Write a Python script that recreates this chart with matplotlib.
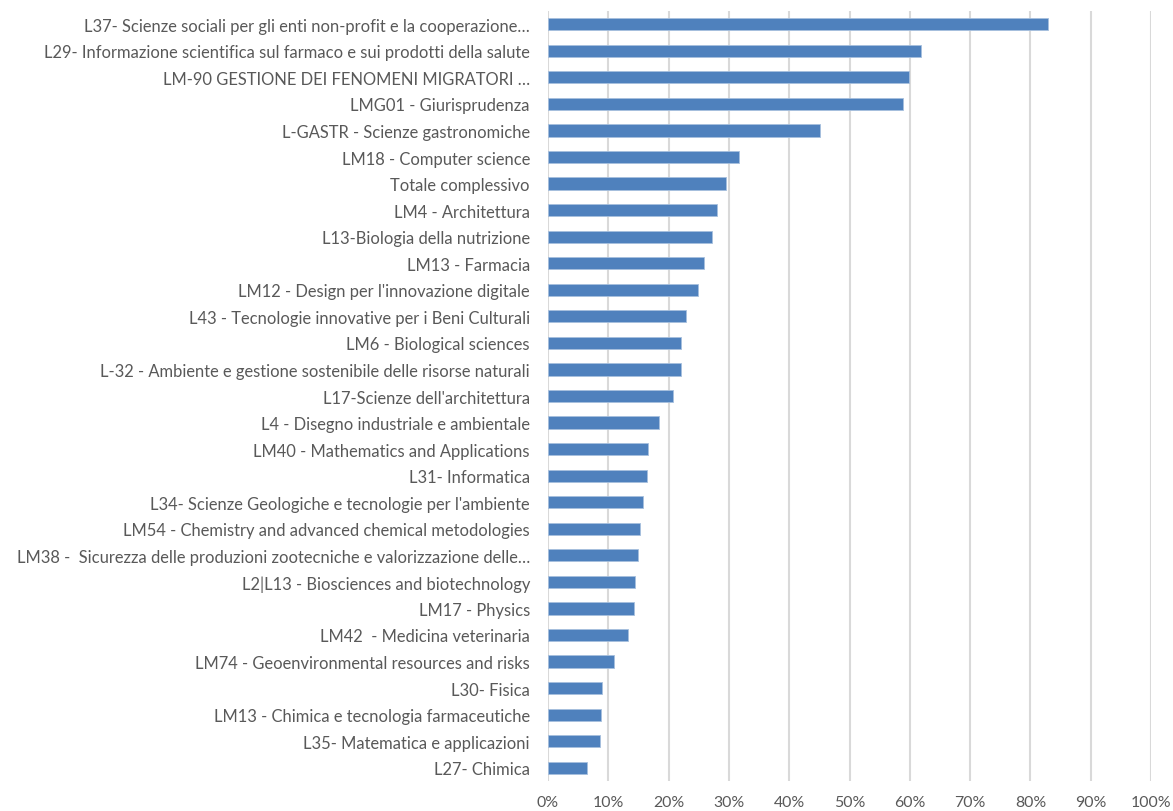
import matplotlib
matplotlib.use("Agg")
import matplotlib.pyplot as plt
import matplotlib.ticker as ticker

# course labels, top to bottom as shown
courses = [
    "L37- Scienze sociali per gli enti non-profit e la cooperazione…",
    "L29- Informazione scientifica sul farmaco e sui prodotti della salute",
    "LM-90 GESTIONE DEI FENOMENI MIGRATORI …",
    "LMG01 - Giurisprudenza",
    "L-GASTR - Scienze gastronomiche",
    "LM18 - Computer science",
    "Totale complessivo",
    "LM4 - Architettura",
    "L13-Biologia della nutrizione",
    "LM13 - Farmacia",
    "LM12 - Design per l'innovazione digitale",
    "L43 - Tecnologie innovative per i Beni Culturali",
    "LM6 - Biological sciences",
    "L-32 - Ambiente e gestione sostenibile delle risorse naturali",
    "L17-Scienze dell'architettura",
    "L4 - Disegno industriale e ambientale",
    "LM40 - Mathematics and Applications",
    "L31- Informatica",
    "L34- Scienze Geologiche e tecnologie per l'ambiente",
    "LM54 - Chemistry and advanced chemical metodologies",
    "LM38 -  Sicurezza delle produzioni zootecniche e valorizzazione delle…",
    "L2|L13 - Biosciences and biotechnology",
    "LM17 - Physics",
    "LM42  - Medicina veterinaria",
    "LM74 - Geoenvironmental resources and risks",
    "L30- Fisica",
    "LM13 - Chimica e tecnologia farmaceutiche",
    "L35- Matematica e applicazioni",
    "L27- Chimica",
]

share = [
    0.829, 0.619, 0.599, 0.588, 0.451, 0.317, 0.295, 0.280, 0.272, 0.259,
    0.249, 0.229, 0.221, 0.221, 0.207, 0.184, 0.166, 0.164, 0.157, 0.153,
    0.149, 0.144, 0.142, 0.132, 0.110, 0.090, 0.088, 0.087, 0.064,
]

x_ticks = [i / 10 for i in range(11)]

BAR_COLOR = "#4F81BD"
GRID_COLOR = "#D9D9D9"
TEXT_COLOR = "#595959"

plt.rcParams["font.family"] = ["Lato", "DejaVu Sans"]

fig = plt.figure(figsize=(11.73, 8.12), dpi=100)
ax = fig.add_axes([548 / 1173, 30 / 812, 603 / 1173, 770 / 812])

positions = list(range(len(courses)))
ax.barh(positions, share, height=0.46, color=BAR_COLOR,
        edgecolor="#A7C0DE", linewidth=0.6, zorder=3)

ax.set_ylim(len(courses) - 0.5, -0.5)
ax.set_xlim(0, 1)
ax.set_yticks(positions)
ax.set_yticklabels(courses)
ax.set_xticks(x_ticks)
ax.xaxis.set_major_formatter(ticker.PercentFormatter(1.0, decimals=0))

ax.grid(True, axis="x", color=GRID_COLOR, linewidth=1.5, zorder=0)
ax.grid(False, axis="y")
for spine in ax.spines.values():
    spine.set_visible(False)

ax.tick_params(axis="y", length=0, pad=13, labelsize=11.9, labelcolor=TEXT_COLOR)
ax.tick_params(axis="x", length=0, pad=10, labelsize=11.4, labelcolor=TEXT_COLOR)

fig.savefig("out.png", dpi=100)
